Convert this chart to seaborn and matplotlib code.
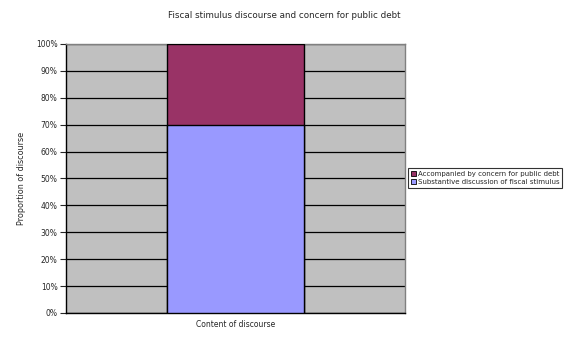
import matplotlib
matplotlib.use("Agg")
import matplotlib.pyplot as plt
import seaborn as sns
import pandas as pd
from matplotlib.patches import Patch
from matplotlib.ticker import PercentFormatter

categories = ["Content of discourse"]
substantive = [70]
accompanied = [30]
series_names = ["Accompanied by concern for public debt", "Substantive discussion of fiscal stimulus"]
title = "Fiscal stimulus discourse and concern for public debt"
ylabel = "Proportion of discourse"

sns.set_style("white")
plt.rcParams['font.family'] = ['DejaVu Sans']

fig = plt.figure(figsize=(5.65, 3.47), dpi=100)
ax = fig.add_axes([66/565, 1-313/347, (405-66)/565, (313-44)/347])
ax.set_facecolor("#C0C0C0")

df = pd.DataFrame({"cat": categories,
                   "total": [s + a for s, a in zip(substantive, accompanied)],
                   "sub": substantive})
sns.barplot(data=df, x="cat", y="total", color="#993366", width=0.404,
            edgecolor="black", linewidth=1, saturation=1, ax=ax, zorder=3)
sns.barplot(data=df, x="cat", y="sub", color="#9999FF", width=0.404,
            edgecolor="black", linewidth=1, saturation=1, ax=ax, zorder=3)

ax.set_ylim(0, 100)
ax.set_xlim(-0.5, 0.5)
ax.set_yticks(range(0, 101, 10))
ax.yaxis.set_major_formatter(PercentFormatter(decimals=0))
ax.yaxis.grid(True, color="black", linewidth=0.9, zorder=1)
ax.set_axisbelow(True)
ax.tick_params(axis='y', labelsize=5.5, length=4, width=0.8, direction='out', left=True, pad=2)
ax.tick_params(axis='x', labelsize=5.5, length=0, pad=5)
for s in ax.spines.values():
    s.set_color("#808080")
    s.set_linewidth(1)
ax.spines['left'].set_color("black")
ax.spines['bottom'].set_color("black")
ax.set_xlabel("")
ax.set_ylabel("")
fig.text(22/565, 1 - 178/347, ylabel, rotation=90,
         ha='center', va='center', fontsize=5.8)
fig.text(284/565, 1 - 16/347, title, ha='center', va='center', fontsize=6.3)

handles = [Patch(facecolor="#993366", edgecolor="black", linewidth=0.6),
           Patch(facecolor="#9999FF", edgecolor="black", linewidth=0.6)]
leg = fig.legend(handles, series_names, loc='center left',
                 bbox_to_anchor=(408/565, 1 - 178/347), fontsize=5.0,
                 frameon=True, fancybox=False, edgecolor="black",
                 handlelength=0.7, handleheight=0.7, handletextpad=0.3,
                 borderpad=0.4, labelspacing=0.25, borderaxespad=0)
leg.get_frame().set_linewidth(0.8)

fig.savefig("out.png", dpi=100)
